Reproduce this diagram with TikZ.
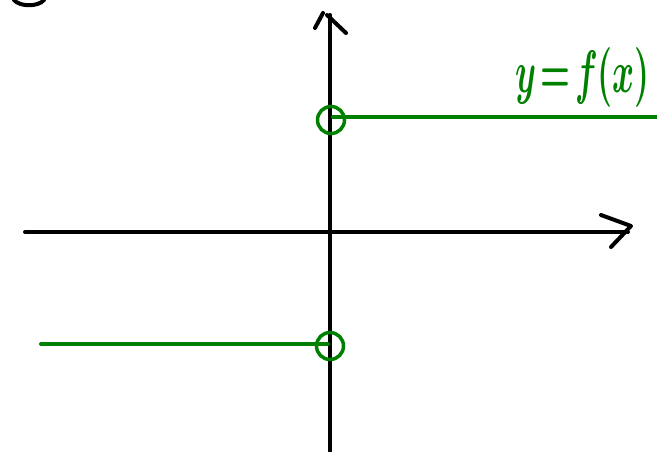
\documentclass[tikz,border=0pt]{standalone}
\usetikzlibrary{calc}
\definecolor{pengreen}{RGB}{0,128,0}
\tikzset{
  axis/.style={line width=4pt, black, line cap=round, line join=round},
  graphline/.style={line width=4pt, pengreen, line cap=round},
  hole/.style={circle, draw=pengreen, line width=3.5pt, minimum size=27pt, inner sep=0pt},
  lbl/.style={text=pengreen, inner sep=0pt, font=\boldmath}
}
\begin{document}
\begin{tikzpicture}[x=1pt,y=-1pt]
\useasboundingbox (0,0) rectangle (657,451);
% partial circle top-left
\draw[axis] (14,0) .. controls (20,7) and (38,7) .. (44,0);
% axes
\coordinate (xl) at (25,232);
\coordinate (xr) at (628,232);
\coordinate (yb) at (330,451);
\coordinate (yt) at (330,15);
\draw[axis] (xl) -- (xr);
\draw[axis] (601,215) -- (631,226) -- (611,247);
\draw[axis] (yb) -- (yt);
\draw[axis] (315,28) -- (323,13);
\draw[axis] (327,15) -- (346,33);
% holes
\node[hole] (h1) at (331,120) {};
\node[hole] (h2) at (330,346) {};
% graph pieces
\coordinate (r1) at (657,117);
\coordinate (l2) at (41,344);
\draw[graphline] (h1.center) ++(2,-3) -- (r1);
\draw[graphline] (l2) -- ($(h2.center)+(-2,-2)$);
% label
\node[lbl, anchor=base west, xscale=3.35, yscale=6] (lab) at (515,92) {$y\!=\!f(x)$};
\end{tikzpicture}
\end{document}
